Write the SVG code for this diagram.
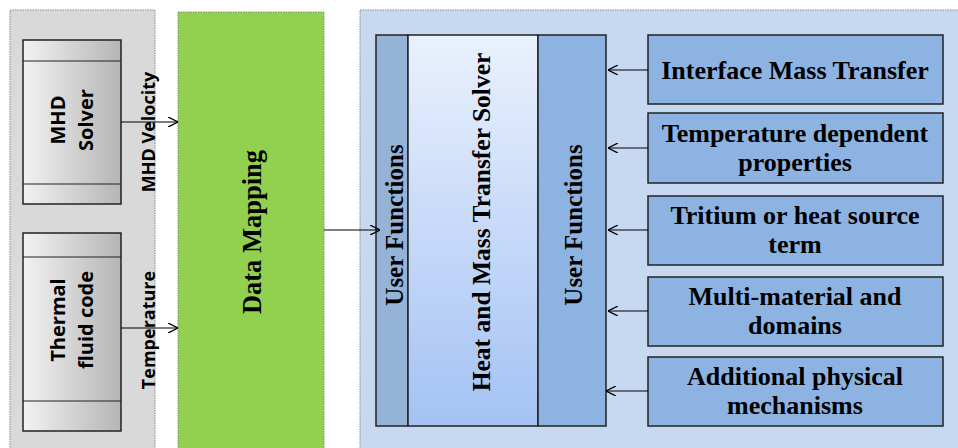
<svg xmlns="http://www.w3.org/2000/svg" width="958" height="448" viewBox="0 0 958 448">
<defs>
<linearGradient id="gray" x1="0" y1="0" x2="1" y2="0">
<stop offset="0" stop-color="#f2f2f2"/>
<stop offset="1" stop-color="#b5b5b5"/>
</linearGradient>
<linearGradient id="solver" x1="0" y1="0" x2="0" y2="1">
<stop offset="0" stop-color="#eaf1fd"/>
<stop offset="1" stop-color="#a4c2f4"/>
</linearGradient>
<marker id="ah" viewBox="0 0 10 10" refX="10" refY="5" markerWidth="10" markerHeight="10" markerUnits="userSpaceOnUse" orient="auto">
<path d="M0,0 L10,5 L0,10" fill="none" stroke="#000" stroke-width="1.3"/>
</marker>
<style>
.panel{stroke:#888;stroke-width:1;stroke-dasharray:1.5 1}
.box{stroke:#222;stroke-width:1.5}
.sans{font-family:"Open Sans","Liberation Sans",sans-serif;font-weight:bold;fill:#000}
.serif{font-family:"Liberation Serif","DejaVu Serif",serif;font-weight:bold;fill:#000}
.rb{fill:#8db3e2;stroke:#222;stroke-width:1.5}
.conn{stroke:#000;stroke-width:1.2;fill:none;marker-end:url(#ah)}
</style>
</defs>
<rect width="958" height="448" fill="#fff"/>
<g id="gray-panel"><rect class="panel" x="10" y="10" width="145" height="445" fill="#d9d9d9"/></g>
<g id="mhd-solver">
<rect class="box" x="23" y="40" width="98" height="164" fill="url(#gray)"/>
<line x1="23" y1="61" x2="121" y2="61" stroke="#222" stroke-width="1.2"/>
<line x1="23" y1="184" x2="121" y2="184" stroke="#222" stroke-width="1.2"/>
<text class="sans" font-size="20" text-anchor="middle" transform="translate(72,120) rotate(-90)"><tspan x="0" y="-7">MHD</tspan><tspan x="0" y="21">Solver</tspan></text>
</g>
<g id="thermal-fluid">
<rect class="box" x="23" y="233" width="98" height="198" fill="url(#gray)"/>
<line x1="23" y1="257" x2="121" y2="257" stroke="#222" stroke-width="1.2"/>
<line x1="23" y1="401" x2="121" y2="401" stroke="#222" stroke-width="1.2"/>
<text class="sans" font-size="20" text-anchor="middle" transform="translate(72,320) rotate(-90)"><tspan x="0" y="-7">Thermal</tspan><tspan x="0" y="21">fluid code</tspan></text>
</g>
<g id="data-mapping">
<rect class="panel" x="178" y="12" width="146" height="445" fill="#92d050"/>
<text class="serif" font-size="26.5" text-anchor="middle" transform="translate(261,232) rotate(-90)">Data Mapping</text>
</g>
<g id="blue-panel"><rect class="panel" x="360" y="10" width="605" height="445" fill="#c6d9f1"/></g>
<g id="user-functions-left">
<rect class="box" x="376" y="35" width="32" height="391" fill="#95b3d7"/>
<text class="serif" font-size="25" text-anchor="middle" transform="translate(403,225) rotate(-90)">User Functions</text>
</g>
<g id="solver">
<rect class="box" x="408" y="35" width="130" height="391" fill="url(#solver)"/>
<text class="serif" font-size="25.5" text-anchor="middle" transform="translate(490,222) rotate(-90)">Heat and Mass Transfer Solver</text>
</g>
<g id="user-functions-right">
<rect class="box" x="538" y="35" width="68" height="391" fill="#8db3e2"/>
<text class="serif" font-size="25" text-anchor="middle" transform="translate(582,225) rotate(-90)">User Functions</text>
</g>
<g id="interface-mass-transfer">
<rect class="rb" x="648" y="35" width="295" height="69"/>
<text class="serif" font-size="26" text-anchor="middle" x="795" y="79">Interface Mass Transfer</text>
</g>
<g id="temperature-dependent">
<rect class="rb" x="648" y="113" width="295" height="70"/>
<text class="serif" font-size="26" text-anchor="middle" x="795" y="142">Temperature dependent<tspan x="795" y="171">properties</tspan></text>
</g>
<g id="tritium">
<rect class="rb" x="648" y="196" width="295" height="69"/>
<text class="serif" font-size="26" text-anchor="middle" x="795" y="224">Tritium or heat source<tspan x="795" y="253">term</tspan></text>
</g>
<g id="multi-material">
<rect class="rb" x="648" y="277" width="295" height="69"/>
<text class="serif" font-size="26" text-anchor="middle" x="795" y="305">Multi-material and<tspan x="795" y="334">domains</tspan></text>
</g>
<g id="additional">
<rect class="rb" x="648" y="357" width="295" height="69"/>
<text class="serif" font-size="26" text-anchor="middle" x="795" y="385">Additional physical<tspan x="795" y="414">mechanisms</tspan></text>
</g>
<g id="connectors">
<line class="conn" x1="121" y1="122" x2="178" y2="122"/>
<line class="conn" x1="121" y1="328" x2="178" y2="328"/>
<line class="conn" x1="324" y1="230" x2="380" y2="230"/>
<line class="conn" x1="648" y1="70" x2="608" y2="70"/>
<line class="conn" x1="648" y1="148" x2="608" y2="148"/>
<line class="conn" x1="648" y1="230" x2="608" y2="230"/>
<line class="conn" x1="648" y1="311" x2="608" y2="311"/>
<line class="conn" x1="648" y1="391" x2="606" y2="391"/>
<text class="sans" font-size="18" text-anchor="middle" transform="translate(155,132) rotate(-90)">MHD Velocity</text>
<text class="sans" font-size="18" text-anchor="middle" transform="translate(155,330) rotate(-90)">Temperature</text>
</g>
</svg>
